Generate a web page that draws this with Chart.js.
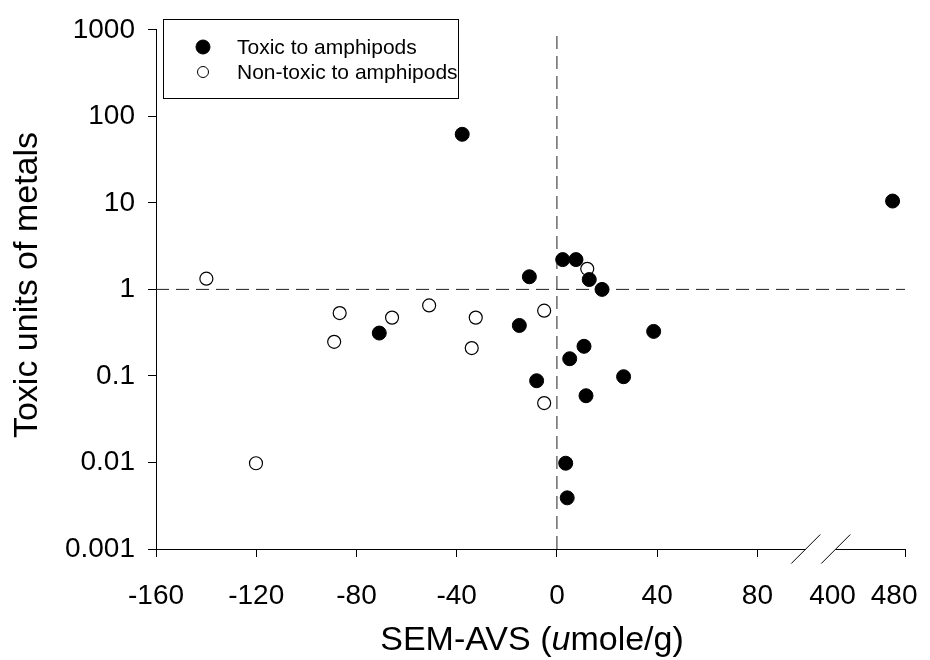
<!DOCTYPE html>
<html>
<head>
<meta charset="utf-8">
<script src="https://cdn.jsdelivr.net/npm/chart.js@4/dist/chart.umd.min.js"></script>
<style>
  html, body { margin: 0; padding: 0; background: #fff; }
  #wrap { width: 930px; height: 660px; }
</style>
</head>
<body>
<div id="wrap"><canvas id="chart"></canvas></div>
<script>
// SEM-AVS (umole/g) vs toxic units of metals
const toxicX = [-70.9, -37.8, -11.0, -15.0, -8.1, 2.3, 7.6, 12.9, 18.0, 5.1, 10.8, 11.6, 26.6, 38.6, 3.5, 4.1, 478];
const toxicY = [0.313, 62, 1.40, 0.383, 0.088, 2.21, 2.21, 1.30, 1.0, 0.158, 0.22, 0.059, 0.098, 0.327, 0.0098, 0.0039, 10.5];
const nonToxicX = [-139.9, -120.1, -88.9, -86.7, -65.8, -51.0, -34.0, -32.4, -5.1, -5.1, 12.1];
const nonToxicY = [1.33, 0.0098, 0.248, 0.533, 0.472, 0.653, 0.21, 0.472, 0.568, 0.0486, 1.73];

const xTicks = [-160, -120, -80, -40, 0, 40, 80, 400, 480];
const yTicks = [0.001, 0.01, 0.1, 1, 10, 100, 1000];
const refX = 0;   // vertical dashed line
const refY = 1;   // horizontal dashed line

// broken x axis: everything from 400 on is squeezed into a short piece after the break
const X_MIN = -160, X_MAX = 138.9;
const BREAK_AT = 400, BREAK_POS = 110, BREAK_SCALE = 0.307, BREAK_MARK = 105.3;
function xPos(v) { return v >= BREAK_AT ? BREAK_POS + (v - BREAK_AT) * BREAK_SCALE : v; }
function xVal(p) { return p >= BREAK_POS - 0.01 ? Math.round(BREAK_AT + (p - BREAK_POS) / BREAK_SCALE) : Math.round(p); }

const FONT = '"Liberation Sans", Arial, Helvetica, sans-serif';

const decor = {
    id: 'decor',
    afterDraw(chart) {
        const ctx = chart.ctx;
        const area = chart.chartArea;
        const xs = chart.scales.x;

        // axis break
        const cx = xs.getPixelForValue(BREAK_MARK);
        const y0 = area.bottom;
        ctx.save();
        ctx.fillStyle = '#fff';
        ctx.fillRect(cx - 15, y0 - 3, 30, 6);
        ctx.strokeStyle = '#000';
        ctx.lineWidth = 1;
        [-15, 15].forEach(dx => {
            ctx.beginPath();
            ctx.moveTo(cx + dx - 14.5, y0 + 14.5);
            ctx.lineTo(cx + dx + 14.5, y0 - 14.5);
            ctx.stroke();
        });

        // legend
        ctx.lineWidth = 1;
        ctx.strokeStyle = '#000';
        ctx.fillStyle = '#fff';
        ctx.fillRect(163.5, 19.5, 295, 79);
        ctx.strokeRect(163.5, 19.5, 295, 79);
        ctx.font = '21px ' + FONT;
        ctx.textBaseline = 'middle';
        ctx.textAlign = 'left';
        const rows = [47, 72];
        chart.data.datasets.filter(d => d.label).forEach((d, i) => {
            ctx.beginPath();
            ctx.arc(203, rows[i], i === 0 ? 7 : 5.5, 0, Math.PI * 2);
            ctx.fillStyle = d.backgroundColor;
            ctx.fill();
            ctx.lineWidth = 1;
            ctx.strokeStyle = '#000';
            ctx.stroke();
            ctx.fillStyle = '#000';
            ctx.fillText(d.label, 237, rows[i] + 1);
        });

        // axis titles
        ctx.fillStyle = '#000';
        ctx.font = '34px ' + FONT;
        ctx.save();
        ctx.translate(37, 285);
        ctx.rotate(-Math.PI / 2);
        ctx.textAlign = 'center';
        ctx.textBaseline = 'alphabetic';
        ctx.fillText('Toxic units of metals', 0, 0);
        ctx.restore();

        const parts = [['SEM-AVS (', ''], ['u', 'italic '], ['mole/g)', '']];
        let total = 0;
        parts.forEach(p => { ctx.font = p[1] + '34px ' + FONT; total += ctx.measureText(p[0]).width; });
        let x = 532 - total / 2;
        ctx.textAlign = 'left';
        ctx.textBaseline = 'alphabetic';
        parts.forEach(p => {
            ctx.font = p[1] + '34px ' + FONT;
            ctx.fillText(p[0], x, 650);
            x += ctx.measureText(p[0]).width;
        });
        ctx.restore();
    }
};

const toPoints = (xs, ys) => xs.map((v, i) => ({ x: xPos(v), y: ys[i] }));

new Chart(document.getElementById('chart'), {
    type: 'scatter',
    data: {
        datasets: [
            {
                label: 'Toxic to amphipods',
                data: toPoints(toxicX, toxicY),
                backgroundColor: '#000',
                borderColor: '#000',
                borderWidth: 1,
                pointRadius: 7,
                order: 1
            },
            {
                label: 'Non-toxic to amphipods',
                data: toPoints(nonToxicX, nonToxicY),
                backgroundColor: '#fff',
                borderColor: '#000',
                borderWidth: 1.2,
                pointRadius: 6.5,
                order: 2
            },
            {
                type: 'line',
                data: [{ x: refX, y: yTicks[0] }, { x: refX, y: yTicks[yTicks.length - 1] }],
                borderColor: '#222',
                borderWidth: 1,
                borderDash: [13, 7],
                pointRadius: 0,
                order: 3
            },
            {
                type: 'line',
                data: [{ x: X_MIN, y: refY }, { x: X_MAX, y: refY }],
                borderColor: '#222',
                borderWidth: 1,
                borderDash: [13, 7],
                pointRadius: 0,
                order: 3
            }
        ]
    },
    options: {
        responsive: true,
        maintainAspectRatio: false,
        animation: false,
        layout: { padding: { top: 24, right: 25, left: 0, bottom: 0 } },
        plugins: { legend: { display: false }, tooltip: { enabled: false } },
        scales: {
            x: {
                type: 'linear',
                min: X_MIN,
                max: X_MAX,
                afterBuildTicks: s => { s.ticks = xTicks.map(v => ({ value: xPos(v) })).concat([{ value: X_MAX }]); },
                afterFit: s => { s.height = 111; },
                border: { display: true, color: '#000', width: 1 },
                grid: {
                    drawOnChartArea: false,
                    tickLength: 8,
                    color: c => (c.tick && c.tick.value >= BREAK_POS - 0.01 && c.tick.value < X_MAX) ? 'rgba(0,0,0,0)' : '#000'
                },
                ticks: {
                    color: '#000',
                    padding: 22,
                    maxRotation: 0,
                    autoSkip: false,
                    font: { family: FONT, size: 28 },
                    callback: v => v >= X_MAX ? '' : String(xVal(v))
                }
            },
            y: {
                type: 'logarithmic',
                min: 0.001,
                max: 1000,
                afterBuildTicks: s => { s.ticks = yTicks.map(v => ({ value: v })); },
                afterFit: s => { s.width = 156; },
                border: { display: true, color: '#000', width: 1 },
                grid: { drawOnChartArea: false, tickLength: 8, color: '#000' },
                ticks: {
                    color: '#000',
                    padding: 13,
                    autoSkip: false,
                    font: { family: FONT, size: 28 },
                    callback: v => String(v)
                }
            }
        }
    },
    plugins: [decor]
});
</script>
</body>
</html>
